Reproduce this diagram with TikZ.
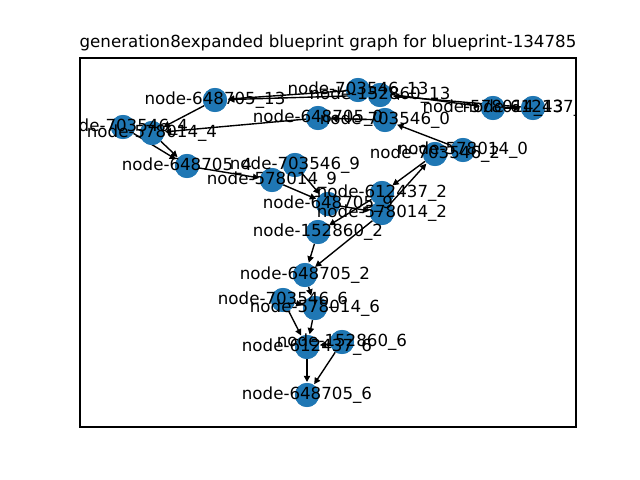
\documentclass[tikz,border=0pt]{standalone}
\usepackage{fontspec}
\setmainfont{DejaVu Sans}
\usetikzlibrary{arrows.meta}
\definecolor{tabblue}{HTML}{1F77B4}
\tikzset{
  gnode/.style={circle,fill=tabblue,draw=none,inner sep=0pt,minimum size=17.3pt},
  glabel/.style={font=\fontsize{12pt}{14pt}\selectfont,inner sep=0pt,text=black},
  gedge/.style={draw=black,line width=1pt,-{Triangle[length=4.5pt,width=4.5pt]},shorten >=0.5pt},
}
\begin{document}
\begin{tikzpicture}[x=0.72pt,y=-0.72pt]
\useasboundingbox (0,0) rectangle (640,480);
\fill[white] (0,0) rectangle (640,480);
\node[glabel] (title) at (328,43) {generation8expanded blueprint graph for blueprint-134785};
% node positions
\coordinate (c648705-13) at (215,100);
\coordinate (c703546-13) at (358,90);
\coordinate (c152860-13) at (380,95);
\coordinate (c578014-13) at (493,108);
\coordinate (c612437-13) at (533,108);
\coordinate (c648705-0) at (318,118);
\coordinate (c703546-0) at (385,120);
\coordinate (c703546-4) at (123,127);
\coordinate (c578014-4) at (152,133);
\coordinate (c648705-4) at (187,166);
\coordinate (c703546-9) at (295,165);
\coordinate (c578014-9) at (272,180);
\coordinate (c703546-2) at (435,154);
\coordinate (c578014-0) at (463,150);
\coordinate (c612437-2) at (382,193);
\coordinate (c648705-9) at (328,204);
\coordinate (c578014-2) at (382,213);
\coordinate (c152860-2) at (318,232);
\coordinate (c648705-2) at (305,275);
\coordinate (c703546-6) at (283,300);
\coordinate (c578014-6) at (315,308);
\coordinate (c612437-6) at (307,347);
\coordinate (c152860-6) at (342,342);
\coordinate (c648705-6) at (307,395);
% nodes
\foreach \n in {648705-13,703546-13,152860-13,578014-13,612437-13,648705-0,703546-0,703546-4,578014-4,648705-4,703546-9,578014-9,703546-2,578014-0,612437-2,648705-9,578014-2,152860-2,648705-2,703546-6,578014-6,612437-6,152860-6,648705-6}
  \node[gnode] (p\n) at (c\n) {};
% edges
\begin{scope}[on background layer/.style={}]
\draw[gedge] (p703546-13) -- (p648705-13);
\draw[gedge] (p152860-13) -- (p648705-13);
\draw[gedge] (p612437-13) -- (p152860-13);
\draw[gedge] (p703546-13) -- (p578014-13);
\draw[gedge] (p578014-13) -- (p612437-13);
\draw[gedge] (p648705-13) -- (p578014-4);
\draw[gedge] (p648705-0) -- (p578014-4);
\draw[gedge] (p703546-0) -- (p648705-0);
\draw[gedge] (p578014-0) -- (p703546-0);
\draw[gedge] (p703546-4) -- (p648705-4);
\draw[gedge] (p578014-4) -- (p648705-4);
\draw[gedge] (p648705-4) -- (p578014-9);
\draw[gedge] (p578014-9) -- (p648705-9);
\draw[gedge] (p703546-9) -- (p648705-9);
\draw[gedge] (p648705-9) -- (p578014-2);
\draw[gedge] (p612437-2) -- (p152860-2);
\draw[gedge] (p703546-2) -- (p612437-2);
\draw[gedge] (p578014-2) -- (p703546-2);
\draw[gedge] (p578014-2) -- (p648705-2);
\draw[gedge] (p152860-2) -- (p648705-2);
\draw[gedge] (p648705-2) -- (p578014-6);
\draw[gedge] (p703546-6) -- (p578014-6);
\draw[gedge] (p703546-6) -- (p612437-6);
\draw[gedge] (p578014-6) -- (p612437-6);
\draw[gedge] (p152860-6) -- (p612437-6);
\draw[gedge] (p612437-6) -- (p648705-6);
\draw[gedge] (p152860-6) -- (p648705-6);
\end{scope}
% redraw nodes on top of edges
\foreach \n in {648705-13,703546-13,152860-13,578014-13,612437-13,648705-0,703546-0,703546-4,578014-4,648705-4,703546-9,578014-9,703546-2,578014-0,612437-2,648705-9,578014-2,152860-2,648705-2,703546-6,578014-6,612437-6,152860-6,648705-6}
  \fill[tabblue] (c\n) circle[radius=8.65pt];
% labels clipped to axes
\begin{scope}
\clip (80,58) rectangle (576,427);
\foreach \n/\t in {648705-13/node-648705\_13,703546-13/node-703546\_13,152860-13/node-152860\_13,578014-13/node-578014\_13,612437-13/node-612437\_13,648705-0/node-648705\_0,703546-0/node-703546\_0,703546-4/node-703546\_4,578014-4/node-578014\_4,648705-4/node-648705\_4,703546-9/node-703546\_9,578014-9/node-578014\_9,703546-2/node-703546\_2,578014-0/node-578014\_0,612437-2/node-612437\_2,648705-9/node-648705\_9,578014-2/node-578014\_2,152860-2/node-152860\_2,648705-2/node-648705\_2,703546-6/node-703546\_6,578014-6/node-578014\_6,612437-6/node-612437\_6,152860-6/node-152860\_6,648705-6/node-648705\_6}
  \node[glabel] (l\n) at (c\n) {\t};
\end{scope}
% axes frame
\draw[black,line width=0.8pt] (80,58) rectangle (576,427);
\end{tikzpicture}
\end{document}
